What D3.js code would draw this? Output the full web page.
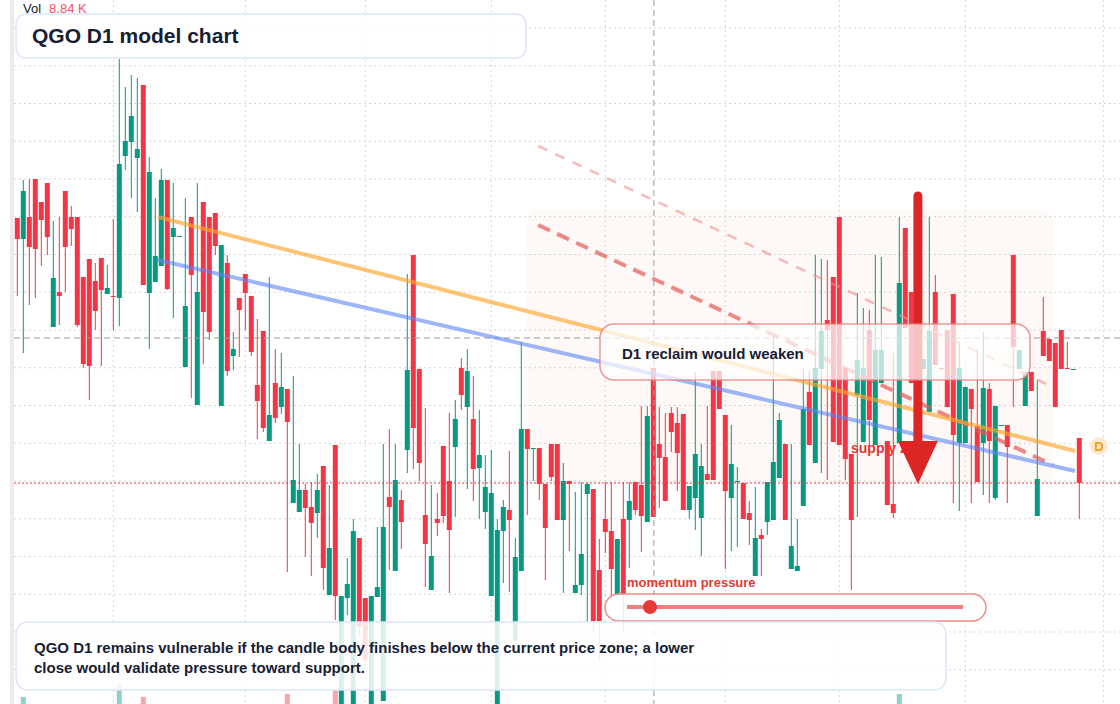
<!DOCTYPE html>
<html>
<head>
<meta charset="utf-8">
<script src="https://cdn.jsdelivr.net/npm/d3@7"></script>
<style>
html, body { margin: 0; padding: 0; background: #fff; overflow: hidden; }
svg { display: block; font-family: "Liberation Sans", Arial, sans-serif; }
</style>
</head>
<body>
<script>
// daily candles (price units are arbitrary, no axis labels shown)
var opens = [7.82,7.61,7.83,8.21,7.98,8.17,6.73,7.08,8.09,7.83,
 7.83,7.23,7.41,7.19,7.42,7.06,7.04,7.02,8.44,8.58,
 8.42,9.15,7.07,7.18,7.34,8.20,7.63,7.64,6.33,7.83,
 5.95,7.98,7.83,7.87,5.94,7.37,6.44,7.02,7.26,7.04,
 6.15,6.69,5.59,6.17,5.93,6.11,4.97,4.88,5.10,4.93,
 4.87,5.34,4.05,5.55,2.94,4.02,2.94,4.62,4.02,2.94,
 4.03,2.99,5.03,4.29,5.00,5.50,7.45,6.31,4.85,4.10,
 4.81,5.54,5.19,5.53,6.32,5.93,5.81,5.32,4.88,4.04,
 2.94,4.69,4.90,3.60,4.29,5.71,5.52,5.52,5.16,5.56,
 5.56,4.80,5.19,4.07,4.15,5.06,5.11,4.30,4.81,4.69,
 4.06,4.81,4.80,5.18,5.15,4.78,6.32,5.56,5.43,5.87,
 5.77,5.86,4.90,5.02,4.82,5.26,6.29,6.29,5.85,5.02,
 5.19,5.17,4.87,4.24,4.65,4.78,4.80,5.22,5.56,4.31,
 4.29,4.94,6.08,5.37,6.31,6.80,7.23,7.83,6.32,5.46,
 6.05,5.58,6.70,5.55,6.17,5.59,4.96,5.57,7.72,7.08,
 7.00,6.31,5.88,7.08,6.32,6.70,7.06,5.57,5.57,6.11,
 5.74,5.57,6.11,5.02,5.75,5.75,7.45,6.31,5.94,6.28,
 4.84,6.69,6.61,6.57,6.70,6.32,6.31,5.62];
var highs = [7.82,8.20,8.21,8.21,7.98,8.17,7.79,7.83,8.09,7.94,
 7.83,7.23,7.41,7.37,7.42,7.35,7.81,9.41,9.13,9.25,
 9.22,9.15,8.43,8.02,8.31,8.20,8.17,7.64,8.02,7.83,
 8.17,7.98,7.83,7.87,7.55,7.45,6.68,7.02,7.26,7.04,
 6.81,6.69,7.23,6.51,6.47,6.11,6.24,5.56,5.16,5.18,
 5.26,5.34,5.15,5.55,4.04,4.42,4.81,4.62,4.02,4.04,
 4.73,5.56,5.71,5.56,5.10,7.26,7.45,6.31,5.92,5.15,
 5.07,5.54,5.87,6.00,6.42,6.51,6.24,5.90,5.45,5.50,
 4.81,5.00,5.49,4.62,6.58,5.71,5.52,5.52,5.16,5.56,
 5.56,5.37,5.19,5.08,5.18,5.17,5.11,4.61,5.18,5.18,
 4.61,5.18,5.18,5.18,5.94,5.94,6.32,5.93,5.87,5.93,
 5.93,5.86,5.14,6.28,5.56,5.94,6.29,6.29,5.85,5.75,
 5.33,5.17,4.99,5.13,4.71,5.18,6.64,5.87,5.56,5.56,
 4.81,6.31,6.29,7.45,7.41,7.40,7.23,7.83,6.32,5.46,
 7.07,6.92,6.90,7.45,7.43,5.59,6.47,7.83,7.72,7.08,
 7.10,6.41,7.83,7.25,6.32,6.70,7.06,6.57,6.13,6.11,
 6.50,6.68,6.17,5.94,5.75,5.75,7.45,6.50,6.28,6.28,
 6.20,7.03,6.61,6.57,6.70,6.58,6.31,5.62];
var lows = [7.04,6.47,6.95,7.02,7.34,7.45,6.73,6.75,7.08,7.54,
 6.73,6.32,6.00,6.70,6.34,7.06,6.70,6.74,8.30,8.02,
 7.88,7.15,6.51,7.18,7.34,7.10,6.82,7.64,6.33,6.02,
 5.95,6.36,6.60,7.45,5.94,6.24,6.30,6.43,6.70,6.44,
 5.61,5.68,5.59,5.77,5.86,4.28,4.97,4.88,4.43,4.24,
 4.62,4.10,4.05,3.80,2.92,3.85,2.92,3.62,3.35,2.92,
 4.03,2.99,4.30,4.29,4.51,5.27,5.31,5.19,4.13,4.10,
 4.64,4.77,4.07,4.83,5.90,5.11,4.99,4.81,4.71,4.04,
 2.92,4.17,4.08,3.55,4.29,4.85,5.19,5.00,4.20,5.19,
 4.80,4.07,4.49,4.07,4.05,3.78,3.68,3.40,4.47,4.00,
 4.06,3.67,4.32,4.85,4.48,4.78,4.83,4.92,4.99,5.48,
 5.09,4.90,4.81,4.70,4.44,5.20,5.20,5.91,4.31,4.49,
 4.53,4.81,4.55,4.24,4.24,4.65,4.80,5.22,4.80,4.31,
 4.29,4.94,5.55,5.37,5.27,5.20,5.58,5.55,5.20,4.10,
 4.83,5.58,5.50,5.55,6.17,4.95,4.82,5.57,6.72,6.17,
 5.80,6.31,5.88,6.35,6.30,5.93,4.97,4.89,5.57,4.97,
 5.18,5.05,4.97,5.00,5.75,4.97,5.93,6.31,5.94,6.09,
 4.84,6.44,6.39,5.93,6.31,6.31,6.31,4.81];
var closes = [7.61,8.09,7.53,7.51,7.80,7.63,7.22,7.04,7.53,7.71,
 6.75,6.36,6.34,6.89,7.10,7.12,7.03,8.36,8.59,8.84,
 8.51,7.15,8.28,7.44,8.20,7.11,7.72,7.64,6.94,7.25,
 7.08,6.88,6.68,7.54,7.55,6.29,6.51,6.90,7.07,6.48,
 5.99,5.72,5.85,5.82,6.13,5.78,5.20,5.10,4.92,4.77,
 5.10,4.32,4.52,4.04,4.04,4.16,4.69,3.73,3.40,4.04,
 4.13,4.73,4.93,5.20,4.78,6.30,5.72,5.37,4.56,4.44,
 4.77,4.84,4.70,5.81,6.05,6.29,5.31,5.45,5.13,5.07,
 4.70,4.93,4.80,4.43,5.71,5.51,5.52,5.16,4.72,5.23,
 4.80,5.19,5.16,4.15,4.46,5.16,3.79,3.79,4.68,4.31,
 4.61,4.06,4.99,4.90,4.84,5.84,4.83,5.42,4.99,5.68,
 5.47,4.90,5.14,5.46,5.34,5.20,5.20,5.91,5.09,5.36,
 5.19,4.81,4.80,4.62,4.61,5.18,5.38,5.80,4.80,4.54,
 4.34,5.91,5.55,6.32,6.69,6.70,5.58,5.55,5.41,4.80,
 6.40,6.32,5.80,6.50,6.50,4.95,4.87,7.17,6.72,6.17,
 6.00,6.41,6.69,6.35,6.31,5.93,5.65,6.32,6.13,5.91,
 5.18,6.12,5.59,5.94,5.75,5.53,6.53,6.50,6.28,6.09,
 5.21,6.44,6.39,5.93,6.31,6.31,6.31,5.17];
// volume in K
var vols = [6.2,17.2,5.8,7.1,4.9,6.4,8.3,5.2,7.6,4.4,
 9.1,8.7,10.2,6.1,7.3,4.8,5.5,22.4,9.6,8.2,
 7.4,17.2,11.3,6.6,7.9,9.4,5.1,3.8,8.8,10.6,
 11.9,9.3,7.7,5.9,12.1,8.4,5.3,6.2,5.6,7.1,
 8.6,9.2,10.4,6.3,5.4,18.4,9.8,6.7,6.1,7.2,
 5.9,10.1,8.9,20.0,11.6,6.4,12.2,9.7,8.5,11.4,
 5.3,12.8,7.6,9.9,5.7,10.9,13.1,9.4,8.1,6.9,
 4.6,7.8,8.7,7.3,5.9,8.2,7.7,5.1,6.3,9.1,
 12.4,5.8,7.9,9.6,11.2,5.7,3.9,5.4,7.6,5.2,
 6.9,7.3,5.0,6.1,6.6,8.4,10.8,9.3,5.5,6.8,
 7.2,9.5,5.9,4.7,7.1,9.8,11.6,5.6,6.3,4.9,
 6.7,8.2,4.4,7.9,6.8,5.2,8.9,5.7,7.5,6.4,
 4.1,5.3,4.8,6.2,3.9,5.6,9.7,6.9,7.4,6.1,
 4.5,8.8,6.6,10.3,7.2,6.0,9.1,11.4,8.2,7.3,
 8.5,7.6,6.9,9.2,6.3,7.8,8.1,18.4,9.9,8.7,
 10.6,5.2,9.4,7.7,4.3,7.9,10.2,8.3,6.5,6.9,
 7.4,8.0,7.1,8.6,3.7,6.2,10.5,5.8,6.4,5.1,
 8.3,7.0,5.6,7.4,6.7,4.6,3.9,8.84];

// month boundaries (candle index) for vertical grid
var gridIdx = [16, 38, 58, 79, 98, 118, 137, 158, 181];
var gridTop = 9.72, gridStep = 0.3775, gridCount = 19;

// drawn objects, in candle index / price
var orangeLine = [[23.45, 7.83], [176.3, 5.49]];
var blueLine = [[23.45, 7.40], [176.3, 5.29]];
var redDash = [[86.8, 7.75], [172.6, 5.35]];
var pinkDash = [[86.8, 8.54], [172.6, 6.13]];
var supplyZone = {i0: 84.9, i1: 172.6, top: 7.90, bottom: 5.17};
var arrow = {i: 150.1, from: 8.04, base: 5.59, tip: 5.16};
var crossIdx = 106.1, crossPrice = 6.62;

var W = 1120, H = 704;
var green = "#089981", red = "#f23645";

var svg = d3.select("body").append("svg")
    .attr("width", W)
    .attr("height", H);

var x = d3.scaleLinear().domain([0, 1]).range([17.3, 23.3]);
var y = d3.scaleLinear().domain([10, 2.96]).range([0, H]);
var yVol = d3.scaleLinear().domain([0, 10]).range([740, 715]);

var bars = opens.map(function (o, i) {
    return {i: i, o: o, h: highs[i], l: lows[i], c: closes[i], v: vols[i]};
});
var lastClose = closes[closes.length - 1];

// supply zone
svg.append("rect")
    .attr("x", x(supplyZone.i0))
    .attr("y", y(supplyZone.top))
    .attr("width", x(supplyZone.i1) - x(supplyZone.i0))
    .attr("height", y(supplyZone.bottom) - y(supplyZone.top))
    .attr("rx", 12)
    .attr("fill", "#fcefe6")
    .attr("opacity", 0.35);

// left edge strip
svg.append("rect").attr("x", 10).attr("y", 0).attr("width", 4).attr("height", H).attr("fill", "#ebebeb");

// grid
svg.append("g").selectAll("line")
    .data(gridIdx)
    .join("line")
    .attr("x1", function (d) { return x(d); })
    .attr("x2", function (d) { return x(d); })
    .attr("y1", 0).attr("y2", H)
    .attr("stroke", "#d5d5d5")
    .attr("stroke-dasharray", "2,3");

svg.append("g").selectAll("line")
    .data(d3.range(gridCount).map(function (n) { return gridTop - n * gridStep; }))
    .join("line")
    .attr("x1", 14).attr("x2", W)
    .attr("y1", function (d) { return y(d); })
    .attr("y2", function (d) { return y(d); })
    .attr("stroke", "#d5d5d5")
    .attr("stroke-dasharray", "2,3");

// volume
svg.append("g").selectAll("rect")
    .data(bars)
    .join("rect")
    .attr("x", function (d) { return x(d.i) - 2.5; })
    .attr("width", 5)
    .attr("y", function (d) { return yVol(d.v); })
    .attr("height", function (d) { return yVol(0) - yVol(d.v); })
    .attr("fill", function (d) { return d.c >= d.o ? green : red; })
    .attr("opacity", 0.45);

// candles
var cg = svg.append("g").selectAll("g")
    .data(bars)
    .join("g");

cg.append("line")
    .attr("x1", function (d) { return x(d.i); })
    .attr("x2", function (d) { return x(d.i); })
    .attr("y1", function (d) { return y(d.h); })
    .attr("y2", function (d) { return y(d.l); })
    .attr("stroke", function (d) { return d.c >= d.o ? green : red; })
    .attr("stroke-width", 1);

cg.append("rect")
    .attr("x", function (d) { return x(d.i) - 2.5; })
    .attr("width", 5)
    .attr("y", function (d) { return y(Math.max(d.o, d.c)); })
    .attr("height", function (d) { return Math.max(1, Math.abs(y(d.o) - y(d.c))); })
    .attr("fill", function (d) { return d.c >= d.o ? green : red; });

// crosshair
svg.append("line")
    .attr("x1", x(crossIdx)).attr("x2", x(crossIdx))
    .attr("y1", 0).attr("y2", H)
    .attr("stroke", "#9b9b9b").attr("stroke-dasharray", "6,4");
svg.append("line")
    .attr("x1", 14).attr("x2", W)
    .attr("y1", y(crossPrice)).attr("y2", y(crossPrice))
    .attr("stroke", "#9b9b9b").attr("stroke-dasharray", "6,4");

// last price line
svg.append("line")
    .attr("x1", 14).attr("x2", W)
    .attr("y1", y(lastClose)).attr("y2", y(lastClose))
    .attr("stroke", red).attr("stroke-dasharray", "2,2");

// trend lines
var line = d3.line()
    .x(function (d) { return x(d[0]); })
    .y(function (d) { return y(d[1]); });

svg.append("path").attr("d", line(pinkDash))
    .attr("fill", "none").attr("stroke", "#f08c8c").attr("stroke-width", 2.5)
    .attr("stroke-dasharray", "10,9").attr("opacity", 0.6);
svg.append("path").attr("d", line(redDash))
    .attr("fill", "none").attr("stroke", "#e35a5a").attr("stroke-width", 4)
    .attr("stroke-dasharray", "13,8").attr("opacity", 0.7);
svg.append("path").attr("d", line(orangeLine))
    .attr("fill", "none").attr("stroke", "#ffa62b").attr("stroke-width", 4)
    .attr("opacity", 0.65);
svg.append("path").attr("d", line(blueLine))
    .attr("fill", "none").attr("stroke", "#5b86f5").attr("stroke-width", 4)
    .attr("opacity", 0.6);

// supply zone label and arrow
svg.append("text")
    .attr("x", 851).attr("y", 453)
    .attr("fill", "#e53935").attr("font-size", 14).attr("font-weight", "bold")
    .text("supply zone");

svg.append("line")
    .attr("x1", x(arrow.i)).attr("x2", x(arrow.i))
    .attr("y1", y(arrow.from)).attr("y2", y(arrow.base))
    .attr("stroke", "#dc2626").attr("stroke-width", 9).attr("stroke-linecap", "round");
svg.append("path")
    .attr("d", "M" + (x(arrow.i) - 20) + "," + y(arrow.base) +
        "L" + (x(arrow.i) + 20) + "," + y(arrow.base) +
        "L" + x(arrow.i) + "," + y(arrow.tip) + "Z")
    .attr("fill", "#dc2626");

// D1 reclaim box
svg.append("rect")
    .attr("x", 600).attr("y", 324).attr("width", 430).attr("height", 56).attr("rx", 14)
    .attr("fill", "#fff").attr("fill-opacity", 0.72)
    .attr("stroke", "#e98080").attr("stroke-opacity", 0.8).attr("stroke-width", 1.5);
svg.append("text")
    .attr("x", 622).attr("y", 359)
    .attr("fill", "#172033").attr("font-size", 15).attr("font-weight", "bold")
    .text("D1 reclaim would weaken");

// D badge at line end
svg.append("circle").attr("cx", 1099).attr("cy", 446).attr("r", 9).attr("fill", "#fde9d2");
svg.append("text")
    .attr("x", 1099).attr("y", 451).attr("text-anchor", "middle")
    .attr("fill", "#f59e0b").attr("font-size", 13).attr("font-weight", "bold")
    .text("D");

// momentum pill
svg.append("text")
    .attr("x", 627).attr("y", 587)
    .attr("fill", "#e53935").attr("font-size", 13).attr("font-weight", "bold")
    .text("momentum pressure");
svg.append("rect")
    .attr("x", 605).attr("y", 594).attr("width", 381).attr("height", 27).attr("rx", 13.5)
    .attr("fill", "#fff").attr("fill-opacity", 0.85)
    .attr("stroke", "#ee8a8a").attr("stroke-width", 1.5);
svg.append("line")
    .attr("x1", 627).attr("x2", 963).attr("y1", 607).attr("y2", 607)
    .attr("stroke", "#ee8080").attr("stroke-width", 4);
svg.append("circle").attr("cx", 650).attr("cy", 607).attr("r", 7).attr("fill", "#e53935");

// bottom caption
svg.append("rect")
    .attr("x", 16).attr("y", 622).attr("width", 930).attr("height", 68).attr("rx", 12)
    .attr("fill", "#fff").attr("fill-opacity", 0.86)
    .attr("stroke", "#dbe6fb").attr("stroke-width", 1.5);
var cap = svg.append("text")
    .attr("fill", "#172033").attr("font-size", 15).attr("font-weight", "bold");
cap.append("tspan").attr("x", 34).attr("y", 653)
    .text("QGO D1 remains vulnerable if the candle body finishes below the current price zone; a lower");
cap.append("tspan").attr("x", 34).attr("y", 673)
    .text("close would validate pressure toward support.");

// title
svg.append("rect")
    .attr("x", 16).attr("y", 14).attr("width", 510).attr("height", 44).attr("rx", 10)
    .attr("fill", "#fff").attr("fill-opacity", 0.9)
    .attr("stroke", "#dbe6fb").attr("stroke-width", 1.5);
svg.append("text")
    .attr("x", 32).attr("y", 43)
    .attr("fill", "#172033").attr("font-size", 21).attr("font-weight", "bold")
    .text("QGO D1 model chart");

// volume legend
var leg = svg.append("text").attr("x", 23).attr("y", 13).attr("font-size", 13);
leg.append("tspan").attr("fill", "#131722").text("Vol");
leg.append("tspan").attr("dx", 8).attr("fill", "#f7525f").text(d3.format(".2f")(vols[vols.length - 1]) + " K");
</script>
</body>
</html>
